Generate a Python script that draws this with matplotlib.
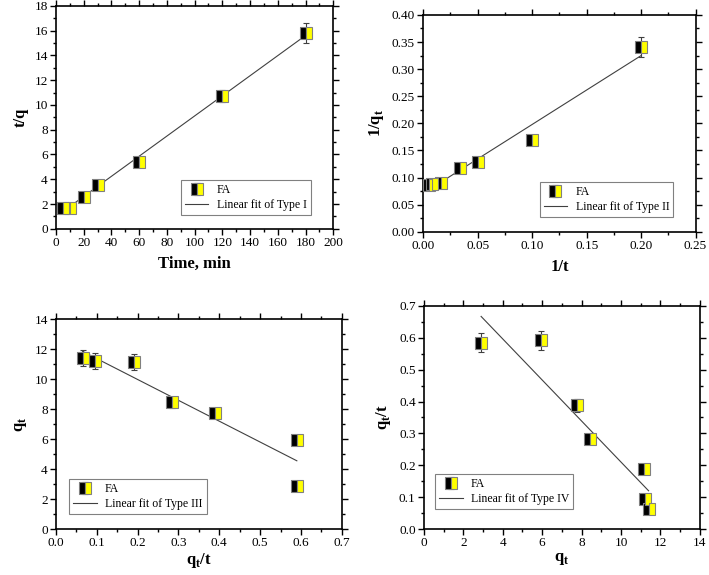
import numpy as np
import matplotlib
matplotlib.use("Agg")
import matplotlib.pyplot as plt
from matplotlib.ticker import MultipleLocator, FormatStrFormatter

plt.rcParams['font.family'] = ['Liberation Serif', 'DejaVu Serif']
plt.rcParams['mathtext.fontset'] = 'custom'
plt.rcParams['mathtext.rm'] = 'Liberation Serif'
plt.rcParams['mathtext.bf'] = 'Liberation Serif:bold'

# Type I: t/q vs time
t1 = [5, 10, 20, 30, 60, 120, 180]
y1 = [1.7, 1.7, 2.6, 3.5, 5.4, 10.7, 15.8]
e1 = [0.1, 0.1, 0.1, 0.15, 0.15, 0.5, 0.8]
fit1_x = [5, 180]
fit1_y = [1.4, 15.6]

# Type II: 1/q vs 1/t
x2 = [0.0056, 0.0083, 0.0167, 0.0333, 0.05, 0.1, 0.2]
y2 = [0.087, 0.088, 0.089, 0.117, 0.128, 0.169, 0.341]
e2 = [0.002, 0.002, 0.002, 0.003, 0.003, 0.004, 0.018]
fit2_x = [0.0056, 0.2]
fit2_y = [0.078, 0.325]

# Type III: q vs q/t
x3 = [0.065, 0.095, 0.19, 0.285, 0.39, 0.59, 0.59]
y3 = [11.4, 11.2, 11.15, 8.45, 7.75, 5.95, 2.9]
e3 = [0.55, 0.55, 0.55, 0.35, 0.35, 0.2, 0.1]
fit3_x = [0.065, 0.59]
fit3_y = [11.85, 4.55]

# Type IV: q/t vs q
x4 = [2.9, 5.95, 7.75, 8.45, 11.15, 11.2, 11.4]
y4 = [0.585, 0.592, 0.388, 0.283, 0.187, 0.094, 0.063]
e4 = [0.03, 0.03, 0.02, 0.01, 0.008, 0.008, 0.005]
fit4_x = [2.9, 11.4]
fit4_y = [0.667, 0.12]

fig = plt.figure(figsize=(7.09, 5.75), dpi=100)

panels = [
    dict(rect=[0.079, 0.602, 0.391, 0.388], x=t1, y=y1, e=e1, fx=fit1_x, fy=fit1_y,
         xlim=(0, 200), ylim=(0, 18), xmaj=20, ymaj=2, xfmt='%d', yfmt='%d',
         xlabel='Time, min', ylabel='t/q', fit='Linear fit of Type I',
         legpos=(0.94, 0.035), legloc='lower right', xpad=5),
    dict(rect=[0.597, 0.597, 0.384, 0.377], x=x2, y=y2, e=e2, fx=fit2_x, fy=fit2_y,
         xlim=(0, 0.25), ylim=(0, 0.40), xmaj=0.05, ymaj=0.05, xfmt='%.2f', yfmt='%.2f',
         xlabel='1/t', ylabel=r'1/q$_\mathbf{t}$', fit='Linear fit of Type II',
         legpos=(0.94, 0.04), legloc='lower right', xpad=5),
    dict(rect=[0.079, 0.080, 0.403, 0.365], x=x3, y=y3, e=e3, fx=fit3_x, fy=fit3_y,
         xlim=(0, 0.7), ylim=(0, 14), xmaj=0.1, ymaj=2, xfmt='%.1f', yfmt='%d',
         xlabel=r'q$_\mathbf{t}$/t', ylabel=r'q$_\mathbf{t}$', fit='Linear fit of Type III',
         legpos=(0.025, 0.043), legloc='lower left', xpad=1),
    dict(rect=[0.598, 0.080, 0.389, 0.388], x=x4, y=y4, e=e4, fx=fit4_x, fy=fit4_y,
         xlim=(0, 14), ylim=(0, 0.7), xmaj=2, ymaj=0.1, xfmt='%d', yfmt='%.1f',
         xlabel=r'q$_\mathbf{t}$', ylabel=r'q$_\mathbf{t}$/t', fit='Linear fit of Type IV',
         legpos=(0.018, 0.063), legloc='lower left', xpad=1),
]

for p in panels:
    ax = fig.add_axes(p['rect'])
    pts = ax.errorbar(p['x'], p['y'], yerr=p['e'], fmt='s', ms=8, fillstyle='left',
                      markerfacecolor='black', markerfacecoloralt='#ffff00',
                      markeredgecolor='#808080', markeredgewidth=0.8,
                      ecolor='#404040', elinewidth=0.8, capsize=2, capthick=0.8,
                      zorder=3)
    ln, = ax.plot(p['fx'], p['fy'], color='#404040', lw=0.8, zorder=2)
    ax.set_xlim(*p['xlim'])
    ax.set_ylim(*p['ylim'])
    ax.xaxis.set_major_locator(MultipleLocator(p['xmaj']))
    ax.xaxis.set_minor_locator(MultipleLocator(p['xmaj'] / 2))
    ax.yaxis.set_major_locator(MultipleLocator(p['ymaj']))
    ax.yaxis.set_minor_locator(MultipleLocator(p['ymaj'] / 2))
    ax.xaxis.set_major_formatter(FormatStrFormatter(p['xfmt']))
    ax.yaxis.set_major_formatter(FormatStrFormatter(p['yfmt']))
    ax.tick_params(which='both', direction='out', top=True, right=True,
                   labelsize=9.5, width=1)
    ax.tick_params(which='major', length=4, pad=2)
    ax.tick_params(which='minor', length=2)
    for s in ax.spines.values():
        s.set_linewidth(1.2)
    ax.set_xlabel(p['xlabel'], fontsize=12, fontweight='bold', labelpad=p['xpad'])
    ax.set_ylabel(p['ylabel'], fontsize=12, fontweight='bold', labelpad=4)
    leg = ax.legend([pts, ln], ['FA', p['fit']], loc=p['legloc'],
                    bbox_to_anchor=p['legpos'], fontsize=8.5,
                    fancybox=False, edgecolor='#808080', framealpha=1,
                    handlelength=2.0, handletextpad=0.7, borderpad=0.35,
                    labelspacing=0.25)
    leg.get_frame().set_linewidth(0.8)

fig.savefig('out.png', dpi=100)
